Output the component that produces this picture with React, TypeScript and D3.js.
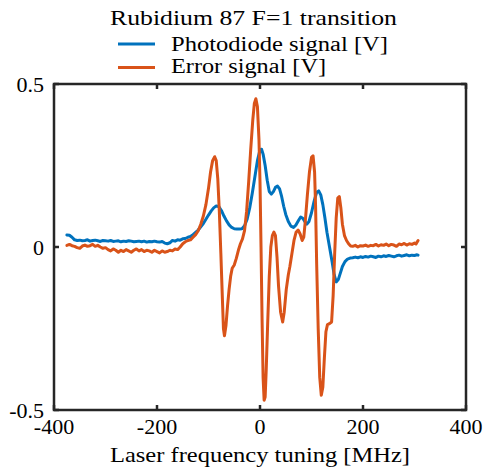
import React, { useEffect, useRef } from "react";
import * as d3 from "d3";

const blueX = [-375,-370,-365,-360,-355,-350,-345,-340,-335,-330,-325,-320,-315,-310,-305,-300,-295,-290,-285,-280,-275,-270,-265,-260,-255,-250,-245,-240,-235,-230,-225,-220,-215,-210,-205,-200,-195,-190,-185,-180,-175,-170,-165,-160,-155,-150,-145,-140,-135,-130,-125,-120,-115,-110,-105,-100,-95,-90,-85,-80,-75,-70,-65,-60,-55,-50,-45,-40,-35,-30,-25,-20,-15,-10,-5,0,3,6,10,14,18,22,26,30,34,38,42,46,50,55,60,65,70,75,79,83,87,91,95,100,105,110,114,118,122,126,130,135,140,144,148,152,156,160,165,170,175,180,185,190,195,200,205,210,215,220,225,230,235,240,245,250,255,260,265,270,275,280,285,290,295,300,305,307];
const blueY = [0.037,0.036,0.030,0.022,0.020,0.021,0.019,0.020,0.022,0.018,0.020,0.021,0.019,0.017,0.020,0.019,0.018,0.020,0.017,0.018,0.019,0.016,0.018,0.017,0.019,0.018,0.016,0.017,0.018,0.016,0.018,0.015,0.017,0.016,0.018,0.016,0.015,0.017,0.012,0.010,0.013,0.020,0.018,0.022,0.021,0.025,0.026,0.030,0.032,0.038,0.045,0.052,0.062,0.072,0.085,0.098,0.110,0.120,0.126,0.124,0.112,0.095,0.080,0.068,0.060,0.056,0.055,0.055,0.056,0.065,0.085,0.120,0.165,0.215,0.265,0.298,0.300,0.285,0.250,0.205,0.170,0.162,0.170,0.183,0.187,0.178,0.155,0.125,0.100,0.078,0.064,0.060,0.068,0.082,0.092,0.088,0.078,0.070,0.078,0.105,0.140,0.168,0.172,0.160,0.130,0.090,0.045,0.000,-0.045,-0.085,-0.107,-0.100,-0.080,-0.060,-0.045,-0.037,-0.034,-0.033,-0.031,-0.033,-0.030,-0.032,-0.029,-0.031,-0.028,-0.030,-0.032,-0.028,-0.030,-0.027,-0.029,-0.026,-0.028,-0.030,-0.027,-0.025,-0.028,-0.026,-0.024,-0.027,-0.025,-0.026,-0.024,-0.025,-0.024];

const orangeX = [-375,-370,-365,-360,-355,-350,-345,-340,-335,-330,-325,-320,-315,-310,-305,-300,-295,-290,-285,-280,-275,-270,-265,-260,-255,-250,-245,-240,-235,-230,-225,-220,-215,-210,-205,-200,-195,-190,-185,-180,-175,-170,-165,-160,-155,-150,-145,-140,-135,-130,-125,-120,-115,-110,-105,-100,-96,-92,-88,-85,-82,-79,-76,-73,-71,-69,-66,-63,-60,-57,-54,-50,-46,-42,-38,-34,-30,-26,-22,-18,-14,-11,-8,-5,-2,0,2,4,6,8,10,12,15,18,21,24,27,30,33,36,40,44,47,51,55,58,62,66,70,74,78,82,85,88,92,96,100,103,106,108,110,113,116,119,122,125,128,131,135,139,142,145,148,151,154,157,160,164,168,172,176,180,185,190,195,200,205,210,215,220,225,230,235,240,245,250,255,260,265,270,275,280,285,290,295,300,303,305,307];
const orangeY = [0.005,0.008,0.004,0.002,-0.002,-0.004,0.003,0.006,0.002,0.004,0.008,0.002,0.005,0.000,-0.004,-0.002,-0.008,-0.012,-0.006,-0.010,-0.016,-0.010,-0.014,-0.008,-0.012,-0.016,-0.010,-0.006,-0.012,-0.008,-0.014,-0.010,-0.012,-0.016,-0.010,-0.014,-0.018,-0.012,-0.016,-0.014,-0.010,-0.012,-0.006,-0.008,0.000,0.010,0.016,0.020,0.022,0.030,0.038,0.050,0.070,0.095,0.130,0.180,0.230,0.265,0.277,0.265,0.210,0.110,-0.020,-0.160,-0.250,-0.272,-0.240,-0.180,-0.130,-0.090,-0.065,-0.055,-0.035,-0.010,0.010,0.025,0.050,0.110,0.200,0.300,0.390,0.440,0.455,0.430,0.330,0.200,0.000,-0.220,-0.400,-0.470,-0.460,-0.380,-0.230,-0.090,0.000,0.035,0.046,0.035,-0.030,-0.120,-0.200,-0.230,-0.200,-0.130,-0.085,-0.060,-0.020,0.020,0.045,0.052,0.040,0.020,0.030,0.080,0.160,0.230,0.275,0.280,0.230,0.120,-0.050,-0.250,-0.400,-0.455,-0.430,-0.340,-0.260,-0.238,-0.235,-0.230,-0.150,-0.020,0.090,0.150,0.155,0.120,0.070,0.035,0.020,0.010,0.003,0.002,0.005,0.000,0.004,0.003,0.006,0.002,0.005,0.004,0.008,0.003,0.007,0.005,0.009,0.004,0.008,0.006,0.002,0.009,0.007,0.011,0.006,0.010,0.008,0.012,0.009,0.015,0.020,0.037];

const xTicks = [-400, -200, 0, 200, 400];
const yTicks = [-0.5, 0, 0.5];
const titleText = "Rubidium 87 F=1 transition";
const seriesNames = ["Photodiode signal [V]", "Error signal [V]"];
const xLabel = "Laser frequency tuning [MHz]";

const BLUE = "#0072BD";
const ORANGE = "#D95319";
const AX = "#262626";
const FONT_CSS = '"Liberation Serif", "Times New Roman", Tinos, serif';

export default function App() {
  const svgRef = useRef<SVGSVGElement | null>(null);
  const left = 54, right = 466, top = 84, bottom = 410;
  const x = d3.scaleLinear().domain([-400, 400]).range([left, right]);
  const y = d3.scaleLinear().domain([-0.5, 0.5]).range([bottom, top]);
  const line = d3.line<[number, number]>().x(d => x(d[0])).y(d => y(d[1]));
  const blue = line(blueX.map((v, i) => [v, blueY[i]]) as [number, number][]) || "";
  const orange = line(orangeX.map((v, i) => [v, orangeY[i]]) as [number, number][]) || "";
  const tl = 5;
  const fmt = (t: number) => (t < 0 ? "-" + Math.abs(t) : String(t));

  useEffect(() => {
    if (!svgRef.current) return;
    d3.select(svgRef.current).selectAll<SVGTextElement, unknown>("text").each(function () {
      this.style.setProperty("font-family", FONT_CSS, "important");
    });
  }, []);

  return (
    <svg id="rbchart" ref={svgRef} width={483} height={468} style={{ position: "absolute", left: 0, top: 0 }} fontFamily="Liberation Serif">
      <style>{`#rbchart text, #rbchart text.lbl { font-family: ${FONT_CSS} !important; }`}</style>
      <rect x={0} y={0} width={483} height={468} fill="#fff" />
      <path d={blue} fill="none" stroke={BLUE} strokeWidth={3} strokeLinejoin="round" strokeLinecap="round" />
      <path d={orange} fill="none" stroke={ORANGE} strokeWidth={3} strokeLinejoin="round" strokeLinecap="round" />
      <rect x={left} y={top} width={right - left} height={bottom - top} fill="none" stroke={AX} strokeWidth={2.5} />
      {xTicks.map(t => (
        <g key={"x" + t}>
          <line x1={x(t)} x2={x(t)} y1={bottom} y2={bottom - tl} stroke={AX} strokeWidth={2.5} />
          <line x1={x(t)} x2={x(t)} y1={top} y2={top + tl} stroke={AX} strokeWidth={2.5} />
        </g>
      ))}
      {yTicks.map(t => (
        <g key={"y" + t}>
          <line x1={left} x2={left + tl} y1={y(t)} y2={y(t)} stroke={AX} strokeWidth={2.5} />
          <line x1={right} x2={right - tl} y1={y(t)} y2={y(t)} stroke={AX} strokeWidth={2.5} />
        </g>
      ))}
      {xTicks.map(t => (
        <text className="lbl" key={"xl" + t} x={x(t)} y={434} textAnchor="middle" fontSize={22} fontFamily="Liberation Serif">{fmt(t)}</text>
      ))}
      {yTicks.map(t => (
        <text className="lbl" key={"yl" + t} x={44} y={y(t) + 7.5} textAnchor="end" fontSize={22} fontFamily="Liberation Serif">{fmt(t)}</text>
      ))}
      <text className="lbl" x={253.5} y={25} textAnchor="middle" fontSize={21} fontFamily="Liberation Serif" textLength={287} lengthAdjust="spacingAndGlyphs">{titleText}</text>
      <line x1={118} x2={155} y1={44} y2={44} stroke={BLUE} strokeWidth={3} />
      <text className="lbl" x={171} y={51} fontSize={20} fontFamily="Liberation Serif" textLength={217} lengthAdjust="spacingAndGlyphs">{seriesNames[0]}</text>
      <line x1={118} x2={155} y1={67.5} y2={67.5} stroke={ORANGE} strokeWidth={3} />
      <text className="lbl" x={171} y={73} fontSize={20} fontFamily="Liberation Serif" textLength={155} lengthAdjust="spacingAndGlyphs">{seriesNames[1]}</text>
      <text className="lbl" x={260} y={462} textAnchor="middle" fontSize={21} fontFamily="Liberation Serif" textLength={300} lengthAdjust="spacingAndGlyphs">{xLabel}</text>
    </svg>
  );
}
